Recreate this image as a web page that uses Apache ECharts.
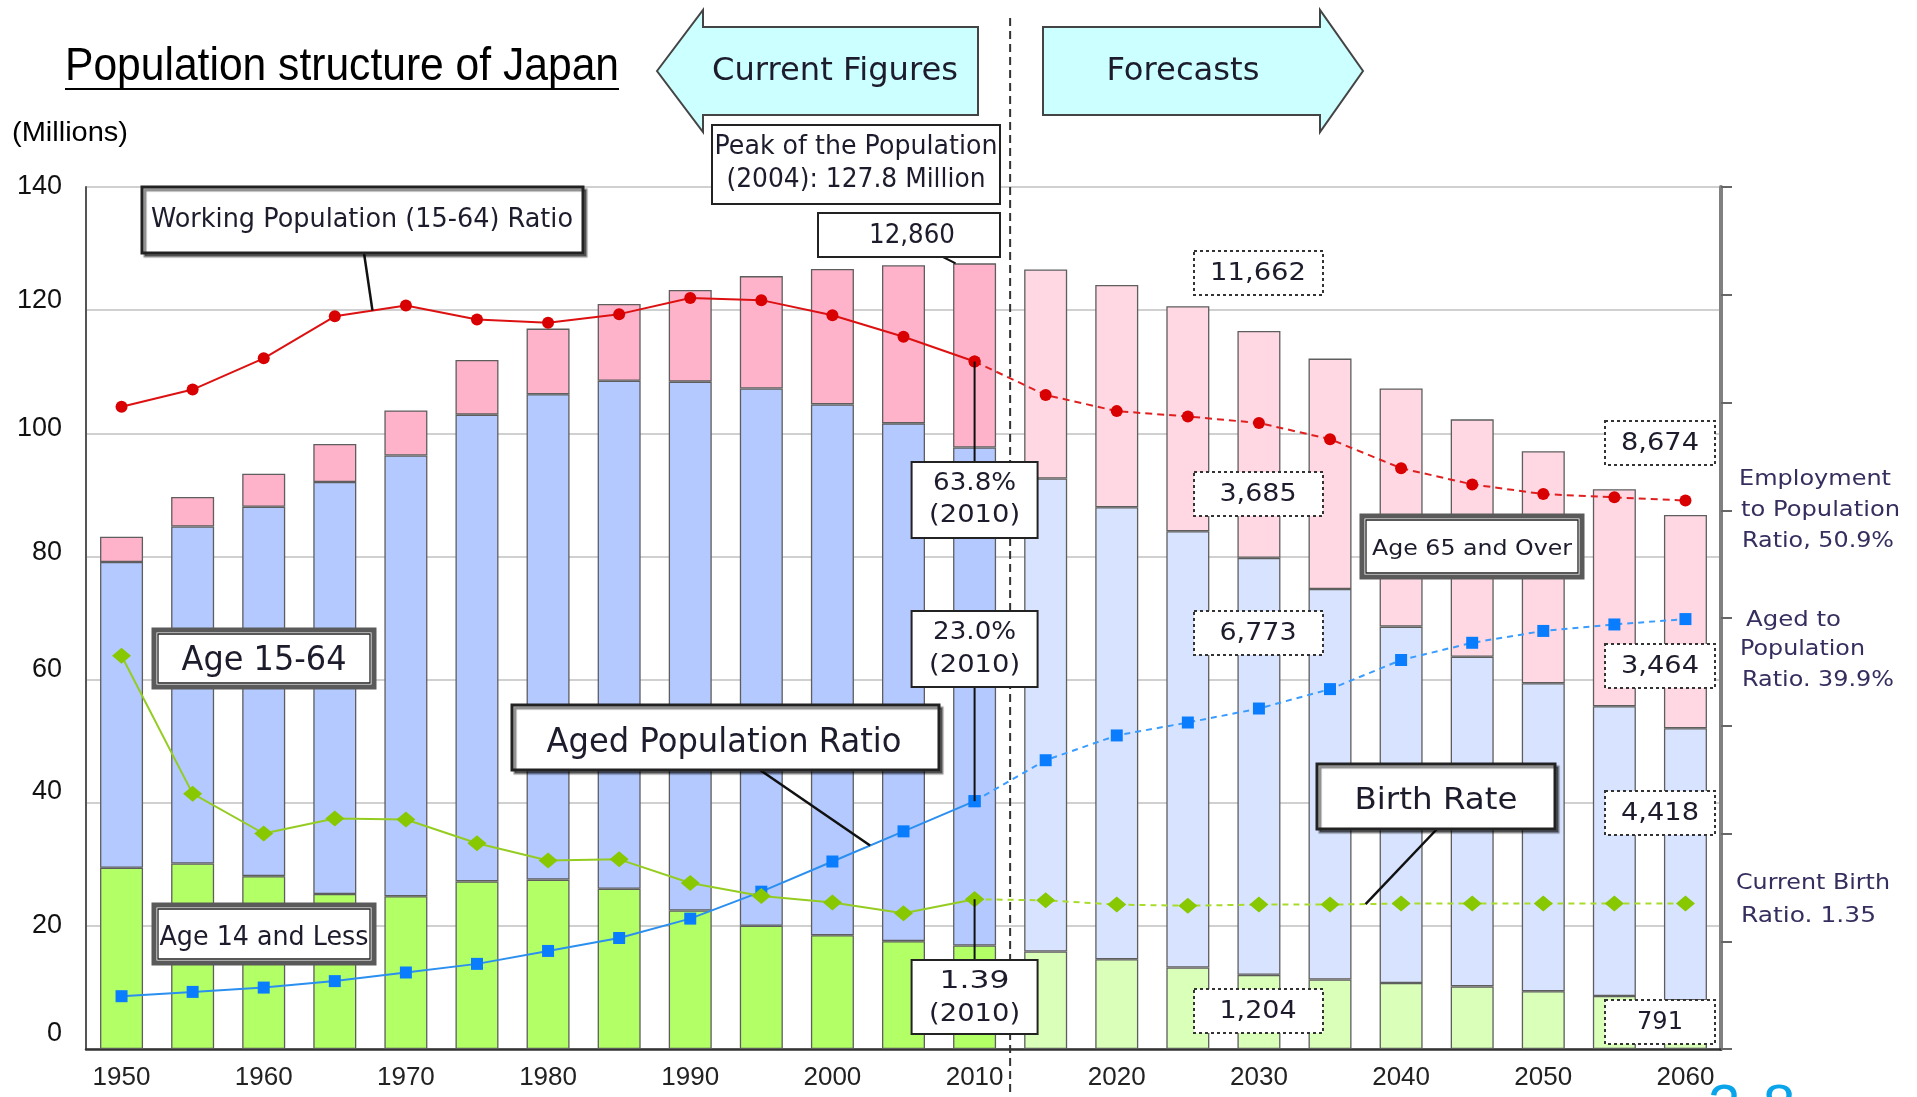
<!DOCTYPE html>
<html><head><meta charset="utf-8">
<script src="https://cdn.jsdelivr.net/npm/echarts@6/dist/echarts.min.js"></script>
<style>html,body{margin:0;padding:0;background:#fff}#c{width:1917px;height:1097px}</style>
</head><body><div id="c"></div>
<script>
// ---------- data ----------
const years = ['1950','1955','1960','1965','1970','1975','1980','1985','1990','1995','2000','2005','2010',
               '2015','2020','2025','2030','2035','2040','2045','2050','2055','2060'];
const age0to14  = [29.43,30.12,28.07,25.17,24.82,27.22,27.51,26.03,22.49,20.01,18.47,17.52,16.80,
                   15.83,14.57,13.24,12.04,11.29,10.73,10.17,9.39,8.61,7.91];
const age15to64 = [49.66,54.73,60.00,66.93,71.57,75.81,78.84,82.51,85.90,87.26,86.22,84.09,80.90,
                   76.82,73.41,70.84,67.73,63.43,57.87,53.53,50.01,47.06,44.18];
const age65plus = [4.11,4.79,5.35,6.18,7.33,8.87,10.65,12.47,14.90,18.26,22.00,25.67,29.90,
                   33.95,36.12,36.57,36.85,37.41,38.68,38.56,37.68,35.26,34.64];
const workRatio = [59.6,61.2,64.1,68.0,69.0,67.7,67.4,68.2,69.7,69.5,68.1,66.1,63.8,
                   60.7,59.2,58.7,58.1,56.6,53.9,52.4,51.5,51.2,50.9];
const agedRatio = [4.9,5.3,5.7,6.3,7.1,7.9,9.1,10.3,12.1,14.6,17.4,20.2,23.0,
                   26.8,29.1,30.3,31.6,33.4,36.1,37.7,38.8,39.4,39.9];
const birthRate = [3.65,2.37,2.00,2.14,2.13,1.91,1.75,1.76,1.54,1.42,1.36,1.26,1.39,
                   1.38,1.34,1.33,1.34,1.34,1.35,1.35,1.35,1.35,1.35];
const leftTicks = [0,20,40,60,80,100,120,140];
const forecastStart = 13; // index of 2015
const lastActual = 12;    // index of 2010

// ---------- styling ----------
const curCol = {kid:'#b3ff66', work:'#b3c9ff', old:'#ffb3cb'};
const fcCol  = {kid:'#d9ffb8', work:'#d8e4ff', old:'#ffd8e3'};
function barData(arr, key){
  return arr.map((v,i)=>({value:v, itemStyle:{color: i>=forecastStart ? fcCol[key] : curCol[key]}}));
}
function solidPart(arr){ return arr.map((v,i)=> i<=lastActual ? v : '-'); }
function dashPart(arr){ return arr.map((v,i)=> i>=lastActual ? v : '-'); }

// the scanned tick labels sit slightly off their grid lines (style only)
const labelLift = {0:15, 20:0, 40:11, 60:10, 80:4, 100:5, 120:10, 140:0};
const richLabels = {};
leftTicks.forEach(t=>{ richLabels['t'+t] = {fontSize:27, fontFamily:'"Liberation Sans", Arial, sans-serif', color:'#111', padding:[0,0,2*labelLift[t],0]}; });

const chart = echarts.init(document.getElementById('c'), null, {renderer:'canvas'});
const barCommon = {type:'bar', stack:'pop', barWidth:43, xAxisIndex:0, yAxisIndex:0,
  itemStyle:{borderColor:'#5e5e5e', borderWidth:1.3}, emphasis:{disabled:true}, z:2};

chart.setOption({
  animation:false,
  backgroundColor:'#fff',
  grid:{left:86, right:196, top:187, bottom:48, containLabel:false, outerBoundsMode:'none'},
  xAxis:[{type:'category', data:years, boundaryGap:true,
    axisLine:{show:true, lineStyle:{color:'#333', width:2.5}},
    axisTick:{show:false},
    axisLabel:{interval:1, color:'#222', fontSize:26, fontFamily:'"Liberation Sans", Arial, sans-serif', margin:16, hideOverlap:false},
    splitLine:{show:false}}],
  yAxis:[
    {type:'value', min:leftTicks[0], max:leftTicks[leftTicks.length-1], interval:20, position:'left',
     axisLine:{show:true, lineStyle:{color:'#555', width:2}},
     axisTick:{show:false},
     axisLabel:{color:'#111', fontSize:27, fontFamily:'"Liberation Sans", Arial, sans-serif', margin:24,
       formatter:(v)=> '{t'+v+'|'+v+'}', rich:richLabels},
     splitLine:{show:true, lineStyle:{color:'#d0d0d0', width:2}}},
    {type:'value', min:0, max:80, interval:10, position:'right',
     axisLine:{show:true, lineStyle:{color:'#808080', width:4}},
     axisTick:{show:true, inside:false, length:11, lineStyle:{color:'#666', width:2}},
     axisLabel:{show:false}, splitLine:{show:false}},
    {type:'value', min:0, max:8, interval:1, position:'right', show:false,
     axisLine:{show:false}, axisLabel:{show:false}, splitLine:{show:false}}
  ],
  series:[
    Object.assign({name:'Age 14 and Less', data:barData(age0to14,'kid')}, barCommon),
    Object.assign({name:'Age 15-64', data:barData(age15to64,'work')}, barCommon),
    Object.assign({name:'Age 65 and Over', data:barData(age65plus,'old')}, barCommon),
    {name:'Working ratio', type:'line', yAxisIndex:1, data:solidPart(workRatio), symbol:'circle', symbolSize:12,
     lineStyle:{color:'#dd1111', width:2}, itemStyle:{color:'#d80000'}, z:5, connectNulls:false},
    {name:'Working ratio f', type:'line', yAxisIndex:1, data:dashPart(workRatio), symbol:'circle', symbolSize:12,
     lineStyle:{color:'#e02020', width:2, type:[7,5]}, itemStyle:{color:'#d80000'}, z:5, connectNulls:false},
    {name:'Aged ratio', type:'line', yAxisIndex:1, data:solidPart(agedRatio), symbol:'rect', symbolSize:12,
     lineStyle:{color:'#2b8ff0', width:2}, itemStyle:{color:'#0a7dff'}, z:5},
    {name:'Aged ratio f', type:'line', yAxisIndex:1, data:dashPart(agedRatio), symbol:'rect', symbolSize:12,
     lineStyle:{color:'#3a9cff', width:2, type:[6,5]}, itemStyle:{color:'#0a7dff'}, z:5},
    {name:'Birth rate', type:'line', yAxisIndex:2, data:solidPart(birthRate), symbol:'diamond', symbolSize:[19,16],
     lineStyle:{color:'#95cc22', width:2}, itemStyle:{color:'#88c800'}, z:5},
    {name:'Birth rate f', type:'line', yAxisIndex:2, data:dashPart(birthRate), symbol:'diamond', symbolSize:[19,16],
     lineStyle:{color:'#a8dc2a', width:2, type:[6,5]}, itemStyle:{color:'#88c800'}, z:5}
  ]
});

// ---------- annotations ----------
const mctx = document.createElement('canvas').getContext('2d');
function fit(text, font, target){ mctx.font = font; const w = mctx.measureText(text).width; return w>0 ? target/w : 1; }
const BOXF = '"DejaVu Sans", Verdana, sans-serif';
const ARIAL = '"Liberation Sans", Arial, sans-serif';
function txt(text, x, y, size, family, target, color, align){
  const font = size + 'px ' + family;
  const sx = target ? fit(text, font, target) : 1;
  const a = align || 'center';
  return {type:'text', x:x, y:y, scaleX:sx, z:200, silent:true,
    style:{text:text, x:0, y:0, font:font, fill:color||'#1c1c2c', textAlign:a, align:a, textVerticalAlign:'middle', verticalAlign:'middle'}};
}
function rect(x,y,w,h,opt){
  opt = opt||{};
  return {type:'rect', z:190, silent:true, shape:{x:x,y:y,width:w,height:h},
    style:Object.assign({fill:'#fff', stroke:'#222', lineWidth:2}, opt)};
}
function dbl(x,y,w,h){ // double-border framed box
  return [rect(x,y,w,h,{stroke:'#5a5a5a', lineWidth:5}), Object.assign(rect(x+4,y+4,w-8,h-8,{stroke:'#222', lineWidth:1.3, fill:'#fff'}),{z:191})];
}
function dashBox(x,y,w,h){ return rect(x,y,w,h,{stroke:'#333', lineWidth:2, lineDash:[3,3]}); }
function line(x1,y1,x2,y2,opt){
  return {type:'line', z:180, silent:true, shape:{x1:x1,y1:y1,x2:x2,y2:y2}, style:Object.assign({stroke:'#111', lineWidth:2.5}, opt||{})};
}
function px(axisIdx, i, v){ return chart.convertToPixel({xAxisIndex:0, yAxisIndex:axisIdx}, [i, v]); }
function lerp(a,b,t){ return [a[0]+(b[0]-a[0])*t, a[1]+(b[1]-a[1])*t]; }

const g = [];
// title
g.push(txt('Population structure of Japan', 65, 67, 47, ARIAL, 554, '#000', 'left'));
g.push(line(65, 89, 619, 89, {stroke:'#000', lineWidth:2.2}));
g.push(txt('(Millions)', 12, 133, 28, ARIAL, 116, '#000', 'left'));

// arrows
g.push({type:'polygon', z:150, silent:true, shape:{points:[[657,71],[703,10],[703,27],[978,27],[978,115],[703,115],[703,132]]},
  style:{fill:'#ccffff', stroke:'#444', lineWidth:2}});
g.push({type:'polygon', z:150, silent:true, shape:{points:[[1043,27],[1320,27],[1320,10],[1363,71],[1320,132],[1320,115],[1043,115]]},
  style:{fill:'#ccffff', stroke:'#444', lineWidth:2}});
g.push(txt('Current Figures', 835, 72, 32, BOXF, 246, '#1c1c2c'));
g.push(txt('Forecasts', 1183, 72, 32, BOXF, 153, '#1c1c2c'));

// divider between actual and forecast
const divX = (px(0, lastActual, 0)[0] + px(0, forecastStart, 0)[0]) / 2;
g.push(line(divX, 18, divX, 1097, {stroke:'#333', lineWidth:2, lineDash:[8,5]}));

// peak box
g.push(rect(712,125,288,79,{lineWidth:2}));
g.push(txt('Peak of the Population', 856, 147, 26, BOXF, 283));
g.push(txt('(2004): 127.8 Million', 856, 180, 26, BOXF, 259));
// 12,860 box
g.push(rect(818,213,182,44,{lineWidth:2}));
g.push(txt('12,860', 912, 236, 26, BOXF, 86));
const top2010 = px(0, lastActual, age0to14[lastActual]+age15to64[lastActual]+age65plus[lastActual]);
g.push(line(943, 257, top2010[0]-19, top2010[1], {lineWidth:2}));

// Working population box
g.push(rect(142,187,441,66,{stroke:'#222', lineWidth:3, shadowColor:'rgba(0,0,0,0.45)', shadowOffsetX:3, shadowOffsetY:3, shadowBlur:1}));
g.push(txt('Working Population (15-64) Ratio', 362, 220, 26, BOXF, 422));
const wpEnd = lerp(px(1,3,workRatio[3]), px(1,4,workRatio[4]), 0.53);
g.push(line(364, 253, wpEnd[0], wpEnd[1]));

// Age 15-64 / Age 14 and Less
dbl(154,630,220,57).forEach(e=>g.push(e));
g.push(txt('Age 15-64', 264, 661, 33, BOXF, 165));
dbl(154,905,220,58).forEach(e=>g.push(e));
g.push(txt('Age 14 and Less', 264, 938, 27, BOXF, 209));

// Aged population ratio
g.push(rect(512,705,427,65,{stroke:'#222', lineWidth:3, shadowColor:'rgba(0,0,0,0.45)', shadowOffsetX:3, shadowOffsetY:3, shadowBlur:1}));
g.push(txt('Aged Population Ratio', 724, 743, 33, BOXF, 355));
const apEnd = lerp(px(1,10,agedRatio[10]), px(1,11,agedRatio[11]), 0.53);
g.push(line(760, 770, apEnd[0], apEnd[1]));

// 2010 value boxes
const pW = px(1, lastActual, workRatio[lastActual]);
const pA = px(1, lastActual, agedRatio[lastActual]);
const pB = px(2, lastActual, birthRate[lastActual]);
const cx10 = pW[0];
g.push(line(cx10, pW[1], cx10, 462, {lineWidth:2}));
g.push(line(cx10, 687, cx10, pA[1], {lineWidth:2}));
g.push(line(cx10, pB[1], cx10, 960, {lineWidth:2}));
g.push(rect(cx10-63,462,126,76,{lineWidth:2}));
g.push(txt('63.8%', cx10, 484, 24, BOXF, 83));
g.push(txt('(2010)', cx10, 516, 24, BOXF, 91));
g.push(rect(cx10-63,611,126,76,{lineWidth:2}));
g.push(txt('23.0%', cx10, 633, 24, BOXF, 83));
g.push(txt('(2010)', cx10, 666, 24, BOXF, 91));
g.push(rect(cx10-63,960,126,74,{lineWidth:2}));
g.push(txt('1.39', cx10, 982, 24, BOXF, 70));
g.push(txt('(2010)', cx10, 1015, 24, BOXF, 91));

// 2030 dashed boxes
[[251,'11,662',96],[472,'3,685',77],[611,'6,773',77],[989,'1,204',77]].forEach(d=>{
  g.push(dashBox(1194,d[0],129,44));
  g.push(txt(d[1], 1258, d[0]+22, 25, BOXF, d[2]));
});
// 2060 dashed boxes
[[421,'8,674',78],[644,'3,464',78],[791,'4,418',78],[1000,'791',46]].forEach(d=>{
  g.push(dashBox(1605,d[0],110,44));
  g.push(txt(d[1], 1660, d[0]+22, 25, BOXF, d[2]));
});

// Age 65 and over
dbl(1362,516,220,61).forEach(e=>g.push(e));
g.push(txt('Age 65 and Over', 1472, 549, 22, BOXF, 200));

// Birth rate box
g.push(rect(1317,764,238,65,{stroke:'#222', lineWidth:3, shadowColor:'rgba(0,0,0,0.45)', shadowOffsetX:3, shadowOffsetY:3, shadowBlur:1}));
g.push(txt('Birth Rate', 1436, 801, 31, BOXF, 163));
const brEnd = lerp(px(2,17,birthRate[17]), px(2,18,birthRate[18]), 0.5);
g.push(line(1437, 829, brEnd[0], brEnd[1]));

// right side notes
const NOTE = '#352e5e';
g.push(txt('Employment', 1739, 480, 21, BOXF, 152, NOTE, 'left'));
g.push(txt('to Population', 1741, 511, 21, BOXF, 159, NOTE, 'left'));
g.push(txt('Ratio, 50.9%', 1742, 542, 21, BOXF, 152, NOTE, 'left'));
g.push(txt('Aged to', 1746, 621, 21, BOXF, 95, NOTE, 'left'));
g.push(txt('Population', 1740, 650, 21, BOXF, 125, NOTE, 'left'));
g.push(txt('Ratio. 39.9%', 1742, 681, 21, BOXF, 152, NOTE, 'left'));
g.push(txt('Current Birth', 1736, 884, 21, BOXF, 154, NOTE, 'left'));
g.push(txt('Ratio. 1.35', 1741, 917, 21, BOXF, 135, NOTE, 'left'));

// cut-off page number at bottom right
g.push({type:'text', x:1708, y:1080, z:200, silent:true, style:{text:'2', x:0, y:0, font:'58px '+ARIAL, fill:'#0aa4ea', textAlign:'left', align:'left', textVerticalAlign:'top', verticalAlign:'top'}});
g.push({type:'text', x:1763, y:1080, z:200, silent:true, style:{text:'8', x:0, y:0, font:'58px '+ARIAL, fill:'#0aa4ea', textAlign:'left', align:'left', textVerticalAlign:'top', verticalAlign:'top'}});

chart.setOption({graphic:{elements:g}});
</script>
</body></html>
